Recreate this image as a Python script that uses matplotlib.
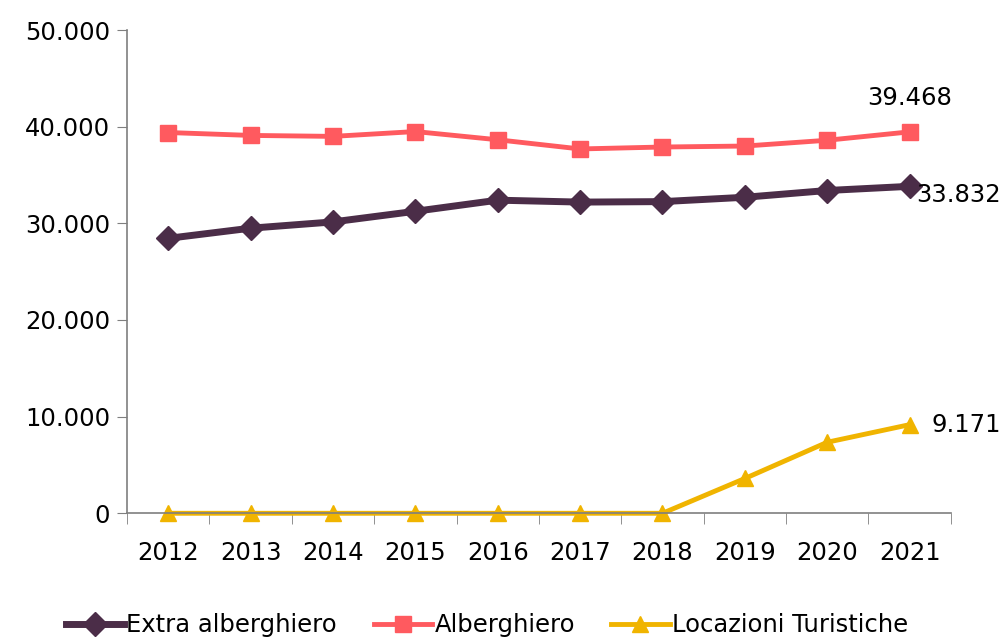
import matplotlib.pyplot as plt
import numpy as np
from matplotlib.ticker import FuncFormatter, FixedLocator

# dati
anni = ["2012", "2013", "2014", "2015", "2016", "2017", "2018", "2019", "2020", "2021"]
extra_alberghiero = [28450, 29500, 30150, 31250, 32400, 32200, 32250, 32700, 33400, 33832]
alberghiero = [39400, 39100, 39000, 39500, 38650, 37700, 37900, 38000, 38600, 39468]
locazioni = [0, 0, 0, 0, 0, 0, 0, 3600, 7350, 9171]

plt.rcParams['font.family'] = ['DejaVu Sans']
fs = 17.5

fig = plt.figure(figsize=(10.04, 6.4), dpi=100)
ax = fig.add_axes([0.1265, 0.198, 0.8205, 0.755])

x = np.arange(len(anni))
ax.plot(x, extra_alberghiero, color="#4B2D48", lw=5, marker="D", ms=12,
        label="Extra alberghiero")
ax.plot(x, alberghiero, color="#FF5A5F", lw=3.5, marker="s", ms=12,
        label="Alberghiero")
ax.plot(x, locazioni, color="#F0B400", lw=3.5, marker="^", ms=12,
        label="Locazioni Turistiche")

def ita(v):
    return f"{v:,.0f}".replace(",", ".")

ax.annotate(ita(alberghiero[-1]), (x[-1], alberghiero[-1]), xytext=(0, 16),
            textcoords="offset points", ha="center", va="bottom", fontsize=fs)
ax.annotate(ita(extra_alberghiero[-1]), (x[-1], extra_alberghiero[-1]), xytext=(5, -6),
            textcoords="offset points", ha="left", va="center", fontsize=fs)
ax.annotate(ita(locazioni[-1]), (x[-1], locazioni[-1]), xytext=(16, 0),
            textcoords="offset points", ha="left", va="center", fontsize=fs)

ax.set_xlim(-0.5, len(anni) - 0.5)
ax.set_ylim(0, 50000)
ax.set_yticks(range(0, 50001, 10000))
ax.yaxis.set_major_formatter(FuncFormatter(lambda v, p: ita(v)))

ax.set_xticks(x)
ax.set_xticklabels(anni)
ax.xaxis.set_minor_locator(FixedLocator(np.arange(-0.5, len(anni), 1)))
ax.tick_params(axis="x", which="major", length=0, pad=20, labelsize=fs)
ax.tick_params(axis="x", which="minor", length=8, color="#7f7f7f", direction="out")
ax.tick_params(axis="y", length=7, color="#7f7f7f", labelsize=fs, pad=5)

for s in ["top", "right"]:
    ax.spines[s].set_visible(False)
for s in ["left", "bottom"]:
    ax.spines[s].set_color("#7f7f7f")
    ax.spines[s].set_linewidth(1.2)
for ln in ax.get_lines():
    ln.set_clip_on(False)

fig.legend(loc="lower center", bbox_to_anchor=(0.485, -0.03), ncol=3, frameon=False,
           fontsize=fs, handlelength=2.4, handletextpad=0.1, columnspacing=1.5)

fig.savefig("out.png", dpi=100)
